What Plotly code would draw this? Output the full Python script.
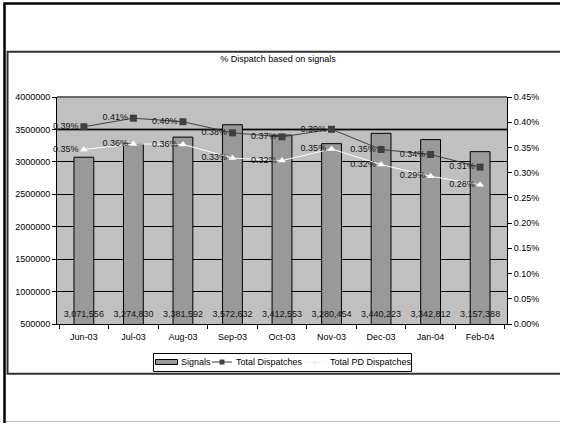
import plotly.graph_objects as go

# Monthly data
months = ["Jun-03", "Jul-03", "Aug-03", "Sep-03", "Oct-03", "Nov-03", "Dec-03", "Jan-04", "Feb-04"]
signals = [3071556, 3274830, 3381592, 3572632, 3412553, 3280454, 3440223, 3342812, 3157388]
total_dispatches = [0.00391, 0.00408, 0.00401, 0.00379, 0.00371, 0.00386, 0.00346, 0.00336, 0.00311]
total_pd_dispatches = [0.00346, 0.00357, 0.00356, 0.00329, 0.00324, 0.00347, 0.00316, 0.00293, 0.00276]
signal_label_level = 650000

W, H = 561, 424
L, R, T, B = 57, 507, 97, 324
FONT = "Liberation Sans, Arial, sans-serif"

BAR_COLOR = "#999999"
TD_COLOR = "#404040"
PD_COLOR = "#ffffff"


def px_x(p):
    return (p - L) / (R - L)


def px_y(p):
    return (B - p) / (B - T)


fig = go.Figure()

fig.add_trace(go.Bar(
    x=months, y=signals, name="Signals", width=0.4,
    marker=dict(color=BAR_COLOR, line=dict(color="#000000", width=1)),
))

fig.add_trace(go.Scatter(
    x=months, y=[signal_label_level] * len(months), mode="text",
    text=[f"{v:,}" for v in signals], textposition="middle center",
    textfont=dict(size=9, color="#111111", family=FONT),
    showlegend=False, hoverinfo="skip", cliponaxis=False,
))

fig.add_trace(go.Scatter(
    x=months, y=total_dispatches, name="Total Dispatches", yaxis="y2",
    mode="lines+markers+text", text=[f"{v:.2%}" for v in total_dispatches],
    textposition="middle left", textfont=dict(size=9, color="#111111", family=FONT),
    line=dict(color=TD_COLOR, width=1),
    marker=dict(symbol="square", size=7, color=TD_COLOR),
    cliponaxis=False,
))

fig.add_trace(go.Scatter(
    x=months, y=total_pd_dispatches, name="Total PD Dispatches", yaxis="y2",
    mode="lines+markers+text", text=[f"{v:.2%}" for v in total_pd_dispatches],
    textposition="middle left", textfont=dict(size=9, color="#111111", family=FONT),
    line=dict(color=PD_COLOR, width=1),
    marker=dict(symbol="triangle-up", size=7, color=PD_COLOR),
    cliponaxis=False,
))


def line(x0, y0, x1, y1, color, width, layer="above"):
    return dict(type="line", xref="paper", yref="paper",
                x0=px_x(x0), x1=px_x(x1), y0=px_y(y0), y1=px_y(y1),
                line=dict(color=color, width=width), layer=layer)


def path(points, color, width):
    d = "M " + " L ".join(f"{px_x(x):.5f},{px_y(y):.5f}" for x, y in points)
    return dict(type="path", xref="paper", yref="paper", path=d,
                line=dict(color=color, width=width))


def rect(x0, y0, x1, y1, fill, border, width=1):
    return dict(type="rect", xref="paper", yref="paper",
                x0=px_x(x0), x1=px_x(x1), y0=px_y(y0), y1=px_y(y1),
                fillcolor=fill, line=dict(color=border, width=width))


shapes = [
    # emphasised gridline and top border of the plot area
    dict(type="line", xref="paper", yref="y", x0=0, x1=1, y0=3500000, y1=3500000,
         line=dict(color="#666666", width=2.5), layer="between"),
    dict(type="line", xref="paper", yref="paper", x0=0, x1=1, y0=1, y1=1,
         line=dict(color="#6a6a6a", width=2), layer="between"),
    # outer page frame
    path([(560, 3.5), (4.5, 3.5), (4.5, 423)], "#000000", 2.5),
    line(6, 421.5, 560, 421.5, "#bbbbbb", 1),
    # chart area frame
    path([(560, 51.7), (7.5, 51.7), (7.5, 373.7), (560, 373.7)], "#333333", 2),
]

# Legend box with its keys
LEG_Y = 362
shapes += [
    rect(153.5, 353.5, 411.5, 371.5, "#ffffff", "#000000", 1),
    rect(155.5, 359.5, 177.5, 364.5, BAR_COLOR, "#000000", 1),
    line(212, LEG_Y, 232, LEG_Y, TD_COLOR, 1),
    rect(219.5, LEG_Y - 2.5, 224.5, LEG_Y + 2.5, TD_COLOR, TD_COLOR, 0),
    line(305, LEG_Y, 325, LEG_Y, "#f4f4f4", 1),
]
legend_texts = [(179, "Signals"), (234, "Total Dispatches"), (328, "Total PD Dispatches")]
annotations = [
    dict(text=t, xref="paper", yref="paper", x=px_x(x), y=px_y(LEG_Y),
         xanchor="left", yanchor="middle", showarrow=False,
         font=dict(size=9, color="#000000", family=FONT))
    for x, t in legend_texts
]
annotations.append(dict(
    text="\u25b2", xref="paper", yref="paper", x=px_x(315), y=px_y(LEG_Y - 0.5),
    xanchor="center", yanchor="middle", showarrow=False,
    font=dict(size=6, color="#f0f0f0", family=FONT)))

fig.update_layout(
    width=W, height=H,
    margin=dict(l=L, r=W - R, t=T, b=H - B, pad=0),
    paper_bgcolor="#ffffff", plot_bgcolor="#c0c0c0",
    font=dict(family=FONT, size=9, color="#000000"),
    title=dict(text="% Dispatch based on signals", x=278 / W,
               xanchor="center", y=1 - 59 / H, yanchor="middle", yref="container",
               font=dict(size=9, color="#000000", family=FONT)),
    bargap=0.6,
    xaxis=dict(
        type="category", tickson="boundaries", ticks="outside", ticklen=4,
        tickcolor="#000000", showline=True, linecolor="#000000", linewidth=1,
        showgrid=False, tickfont=dict(size=9, family=FONT), ticklabelstandoff=4,
    ),
    yaxis=dict(
        range=[500000, 4000000], dtick=500000, tickformat="d",
        ticks="outside", ticklen=4, tickcolor="#000000",
        showline=True, linecolor="#000000", linewidth=1,
        showgrid=True, gridcolor="#000000", gridwidth=1, zeroline=False,
        tickfont=dict(size=9, family=FONT),
    ),
    yaxis2=dict(
        range=[0, 0.0045], dtick=0.0005, tickformat=".2%", overlaying="y",
        side="right", ticks="outside", ticklen=4, tickcolor="#000000",
        showline=True, linecolor="#000000", linewidth=1, showgrid=False,
        zeroline=False, tickfont=dict(size=9, family=FONT),
    ),
    shapes=shapes,
    annotations=annotations,
    showlegend=False,
)

fig.write_html("out.html", config={"displayModeBar": False})
